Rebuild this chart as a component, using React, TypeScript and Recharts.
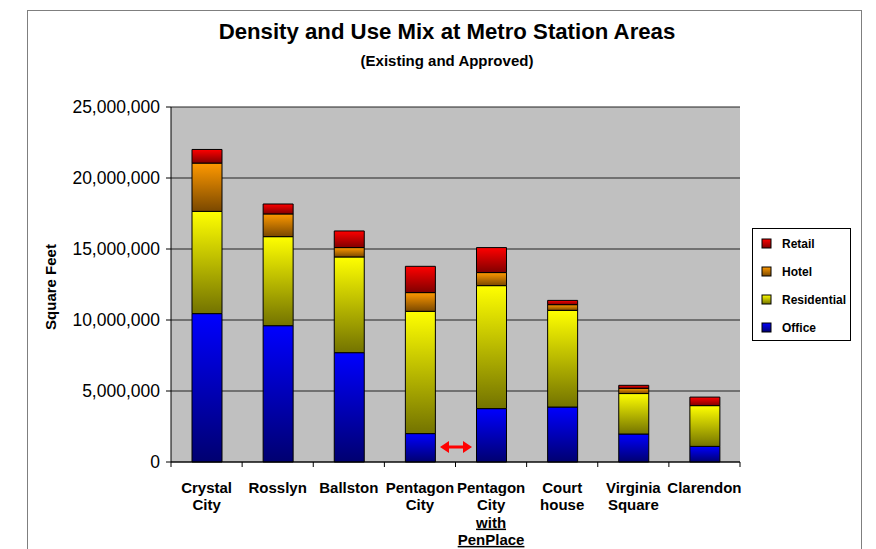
import React from 'react';
import { BarChart, Bar, XAxis, YAxis, CartesianGrid } from 'recharts';

const categories = ['Crystal City', 'Rosslyn', 'Ballston', 'Pentagon City', 'Pentagon City with PenPlace', 'Court house', 'Virginia Square', 'Clarendon'];
const labelLines: string[][] = [
  ['Crystal', 'City'],
  ['Rosslyn'],
  ['Ballston'],
  ['Pentagon', 'City'],
  ['Pentagon', 'City', 'with', 'PenPlace'],
  ['Court', 'house'],
  ['Virginia', 'Square'],
  ['Clarendon'],
];
const underlined = ['with', 'PenPlace'];
const office = [10450000, 9600000, 7700000, 2000000, 3760000, 3870000, 1970000, 1100000];
const residential = [7200000, 6270000, 6740000, 8610000, 8660000, 6810000, 2850000, 2870000];
const hotel = [3400000, 1600000, 660000, 1320000, 920000, 400000, 370000, 0];
const retail = [960000, 700000, 1170000, 1850000, 1760000, 300000, 210000, 600000];
const yTicks = [0, 5000000, 10000000, 15000000, 20000000, 25000000];

const data = categories.map((c, i) => ({
  name: c,
  Office: office[i],
  Residential: residential[i],
  Hotel: hotel[i],
  Retail: retail[i],
}));

const W = 876;
const H = 549;
const PLOT_L = 171;
const PLOT_R = 740;
const PLOT_T = 107;
const PLOT_B = 462;
const FONT = '"Liberation Sans", Arial, Helvetica, sans-serif';

const legendItems = [
  { name: 'Retail', grad: 'gRetail' },
  { name: 'Hotel', grad: 'gHotel' },
  { name: 'Residential', grad: 'gResidential' },
  { name: 'Office', grad: 'gOffice' },
];

const XTick = (props: any) => {
  const { x, index } = props;
  const lines = labelLines[index] || [];
  const band = (PLOT_R - PLOT_L) / categories.length;
  return (
    <g>
      <line x1={x - band / 2} x2={x - band / 2} y1={PLOT_B} y2={PLOT_B + 5} stroke="#000" />
      {index === categories.length - 1 && (
        <line x1={x + band / 2} x2={x + band / 2} y1={PLOT_B} y2={PLOT_B + 5} stroke="#000" />
      )}
      <text x={x} y={PLOT_B + 31} textAnchor="middle" fontFamily={FONT} fontWeight="bold" fontSize={15} fill="#000">
        {lines.map((l, i) => (
          <tspan
            key={i}
            x={x}
            dy={i === 0 ? 0 : 17.3}
            style={{ textDecoration: underlined.includes(l) ? 'underline' : 'none' }}
          >
            {l}
          </tspan>
        ))}
      </text>
    </g>
  );
};

export default function App() {
  return (
    <div style={{ position: 'absolute', left: 0, top: 0, width: W, height: H, overflow: 'hidden', background: '#fff', fontFamily: FONT }}>
      <svg width={0} height={0} style={{ position: 'absolute' }}>
        <defs>
          <linearGradient id="gOffice" x1="0" y1="0" x2="0" y2="1">
            <stop offset="0%" stopColor="#0000FF" />
            <stop offset="100%" stopColor="#000070" />
          </linearGradient>
          <linearGradient id="gResidential" x1="0" y1="0" x2="0" y2="1">
            <stop offset="0%" stopColor="#FFFF00" />
            <stop offset="100%" stopColor="#737300" />
          </linearGradient>
          <linearGradient id="gHotel" x1="0" y1="0" x2="0" y2="1">
            <stop offset="0%" stopColor="#FF9900" />
            <stop offset="100%" stopColor="#7A4800" />
          </linearGradient>
          <linearGradient id="gRetail" x1="0" y1="0" x2="0" y2="1">
            <stop offset="0%" stopColor="#FF0000" />
            <stop offset="100%" stopColor="#800000" />
          </linearGradient>
        </defs>
      </svg>
      <div style={{ position: 'absolute', left: 27, top: 10, width: 835, height: 600, border: '1px solid #7f7f7f', boxSizing: 'border-box' }} />
      <div style={{ position: 'absolute', left: 0, top: 19, width: 894, textAlign: 'center', fontSize: 22.2, fontWeight: 'bold', lineHeight: '26px', color: '#000' }}>
        Density and Use Mix at Metro Station Areas
      </div>
      <div style={{ position: 'absolute', left: 0, top: 52, width: 894, textAlign: 'center', fontSize: 15, fontWeight: 'bold', lineHeight: '18px', color: '#000' }}>
        (Existing and Approved)
      </div>
      <div style={{ position: 'absolute', left: 0, top: 0 }}>
        <BarChart width={W} height={H} data={data} margin={{ top: PLOT_T, left: PLOT_L - 100, right: W - PLOT_R, bottom: H - PLOT_B - 80 }} barSize={30}>
          <CartesianGrid vertical={false} stroke="#222" fill="#C0C0C0" fillOpacity={1} />
          <XAxis dataKey="name" height={80} interval={0} tick={<XTick />} tickLine={false} axisLine={{ stroke: '#000' }} />
          <YAxis
            width={100}
            domain={[0, 25000000]}
            ticks={yTicks}
            tickFormatter={(v: number) => v.toLocaleString('en-US')}
            tick={{ fontSize: 17.5, fill: '#000', fontFamily: FONT }}
            tickSize={5}
            tickMargin={6}
            tickLine={{ stroke: '#000' }}
            axisLine={{ stroke: '#000' }}
          />
          <YAxis yAxisId="right" orientation="right" width={0} tick={false} tickLine={false} axisLine={{ stroke: '#808080' }} />
          <Bar dataKey="Office" stackId="a" fill="url(#gOffice)" stroke="#000" strokeWidth={1} isAnimationActive={false} />
          <Bar dataKey="Residential" stackId="a" fill="url(#gResidential)" stroke="#000" strokeWidth={1} isAnimationActive={false} />
          <Bar dataKey="Hotel" stackId="a" fill="url(#gHotel)" stroke="#000" strokeWidth={1} isAnimationActive={false} />
          <Bar dataKey="Retail" stackId="a" fill="url(#gRetail)" stroke="#000" strokeWidth={1} isAnimationActive={false} />
        </BarChart>
      </div>
      <svg width={W} height={H} style={{ position: 'absolute', left: 0, top: 0, pointerEvents: 'none' }}>
        <text transform="translate(56,287) rotate(-90)" textAnchor="middle" fontFamily={FONT} fontWeight="bold" fontSize={15} fill="#000">
          Square Feet
        </text>
        <g>
          <line x1={447} x2={465} y1={447} y2={447} stroke="#FF0000" strokeWidth={3} />
          <polygon points="440,447 449,441 449,453" fill="#FF0000" />
          <polygon points="472,447 463,441 463,453" fill="#FF0000" />
        </g>
        <g>
          <rect x={752.5} y={228.5} width={98} height={112} fill="#fff" stroke="#000" strokeWidth={1} />
          {legendItems.map((it, i) => {
            const cy = 244 + i * 28;
            return (
              <g key={it.name}>
                <rect x={762} y={cy - 5} width={9} height={9} fill={`url(#${it.grad})`} stroke="#000" strokeWidth={1} />
                <text x={782} y={cy + 4} fontFamily={FONT} fontWeight="bold" fontSize={12} fill="#000">
                  {it.name}
                </text>
              </g>
            );
          })}
        </g>
      </svg>
    </div>
  );
}
